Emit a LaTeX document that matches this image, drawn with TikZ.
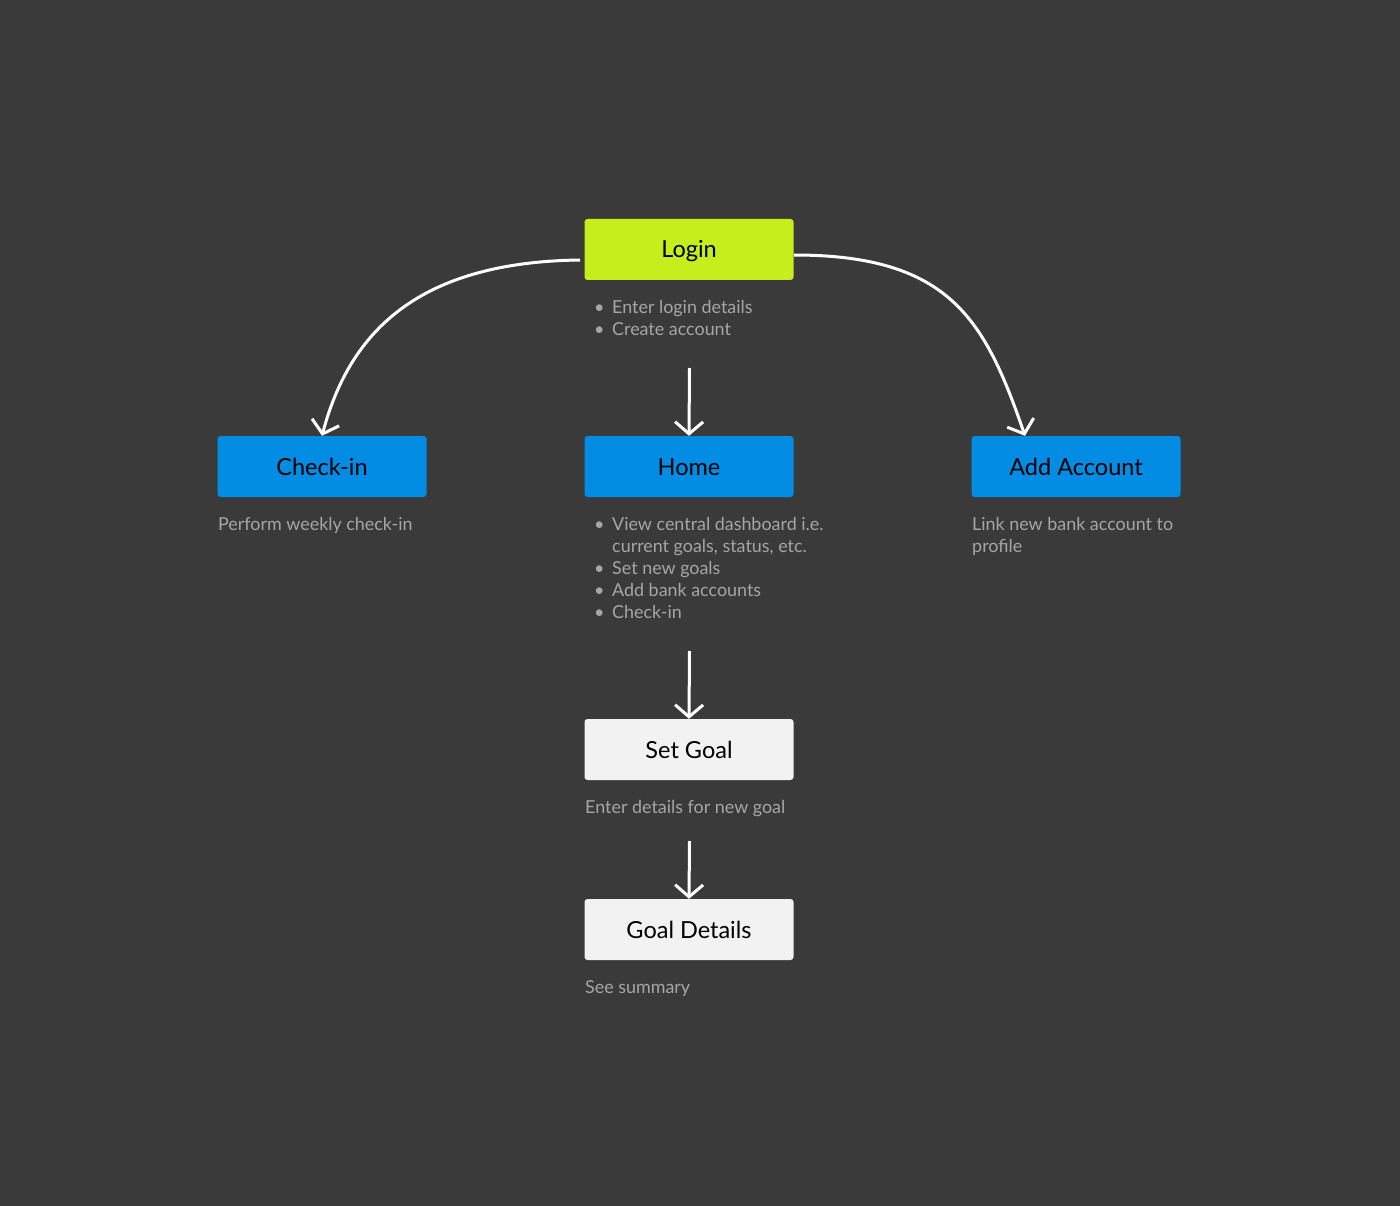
\documentclass[tikz,border=0pt]{standalone}
\usepackage{fontspec}
\setmainfont{Lato}
\usetikzlibrary{arrows.meta}
\definecolor{bgc}{HTML}{3A3A3A}
\definecolor{limec}{HTML}{C6EE1C}
\definecolor{bluec}{HTML}{028CE4}
\definecolor{lightc}{HTML}{F2F2F2}
\definecolor{descc}{HTML}{A6A6A6}
\newcommand\bul{\makebox[18pt][l]{\textbullet}}
\newcommand\ind{\hspace*{18pt}}
\tikzset{
  box/.style={minimum width=209pt, minimum height=61pt, rounded corners=3pt, inner sep=0pt,
    text height=17pt, text depth=0pt,
    font=\fontsize{23.5}{27}\selectfont, text=black},
  limebox/.style={box, fill=limec},
  bluebox/.style={box, fill=bluec},
  lightbox/.style={box, fill=lightc},
  desc/.style={anchor=north west, inner sep=0pt, align=left, text=descc,
    font=\fontsize{17.9}{22}\selectfont},
  flow/.style={draw=white, line width=3pt,
    -{Straight Barb[length=12pt,width=28pt,line width=3pt]}}
}
\begin{document}
\begin{tikzpicture}[x=1pt,y=-1pt]
\fill[bgc] (0,0) rectangle (1400,1206);
\useasboundingbox (0,0) rectangle (1400,1206);

\node[limebox] (login) at (689,249.5) {Login};
\node[bluebox] (checkin) at (322,466.5) {Check-in};
\node[bluebox] (home) at (689,466.5) {Home};
\node[bluebox] (addacc) at (1076,466.5) {Add Account};
\node[lightbox] (setgoal) at (689,749.5) {Set Goal};
\node[lightbox] (goaldet) at (689,929.5) {Goal Details};

\node[desc] (logind) at (594,300.5) {\bul Enter login details\\\bul Create account};
\node[desc] (checkind) at (218,517.5) {Perform weekly check-in};
\node[desc] (homed) at (594,517.5) {\bul View central dashboard i.e.\\\ind current goals, status, etc.\\\bul Set new goals\\\bul Add bank accounts\\\bul Check-in};
\node[desc] (addaccd) at (972,517.5) {Link new bank account to\\profile};
\node[desc] (setgoald) at (585,800.5) {Enter details for new goal};
\node[desc] (goaldetd) at (585,980.5) {See summary};

\coordinate (ls) at (580,260);
\coordinate (rs) at (794,255);
\coordinate (a1) at (689.5,368);
\coordinate (a2) at (689.5,651);
\coordinate (a3) at (689.5,841);

\draw[flow] (ls) .. controls (420,262) and (350,330) .. (checkin.north);
\draw[flow] (rs) .. controls (950,255) and (985,320) .. ([xshift=-51pt]addacc.north);
\draw[flow] (a1) -- (home.north);
\draw[flow] (a2) -- (setgoal.north);
\draw[flow] (a3) -- (goaldet.north);
\end{tikzpicture}
\end{document}
